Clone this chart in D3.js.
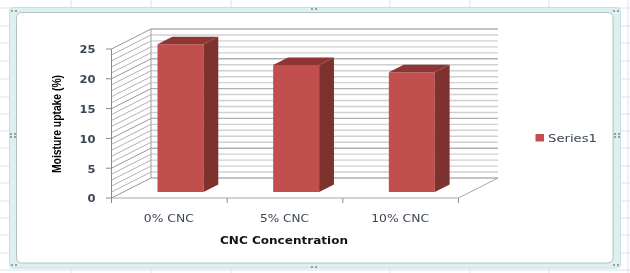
<!DOCTYPE html>
<html><head><meta charset="utf-8">
<script src="https://cdn.jsdelivr.net/npm/d3@7"></script>
<style>html,body{margin:0;padding:0;background:#fff;overflow:hidden}svg{display:block}text{font-family:"DejaVu Sans",sans-serif}</style>
</head><body><svg id="c" width="630" height="273"></svg>
<script>
const categories=["0% CNC","5% CNC","10% CNC"];
const seriesName="Series1";
const values=[24.8,21.3,20.1];
const yTicks=[0,5,10,15,20,25];
const yMinor=d3.range(0,26);
const xTitle="CNC Concentration";
const yTitle="Moisture uptake (%)";
const sheetCols=[71,151,231,390,470,549,628];
const sheetRows=[8,26,43,61,79,97,114,131,148,166,183,201,218,235,253,270];

const svg=d3.select("#c");
const root=svg.append("g");
const defs=svg.append("defs");
defs.append("filter").attr("id","soft").attr("x","-2%").attr("y","-2%").attr("width","104%").attr("height","104%")
  .append("feGaussianBlur").attr("stdDeviation",0.45);
root.attr("filter","url(#soft)");

root.append("rect").attr("width",630).attr("height",273).attr("fill","#fff");
root.selectAll(".sc").data(sheetCols).join("line").attr("x1",d=>d).attr("x2",d=>d).attr("y1",0).attr("y2",273).attr("stroke","#d9e3ef");
root.selectAll(".sr").data(sheetRows).join("line").attr("y1",d=>d).attr("y2",d=>d).attr("x1",0).attr("x2",630).attr("stroke","#d9e3ef");

// chart frame
root.append("rect").attr("x",9.5).attr("y",7.5).attr("width",611).attr("height",260.5).attr("rx",4)
  .attr("fill","#deefef").attr("stroke","#c8dde0");
root.append("rect").attr("x",16.5).attr("y",12.5).attr("width",596.5).attr("height",250.5).attr("rx",5)
  .attr("fill","#fff").attr("stroke","#b4bfc0").attr("stroke-width",1);

const x=d3.scaleBand().domain(categories).range([111.5,458.5]);
const y=d3.scaleLinear().domain([0,25]).range([198,49]);
const DX=39.5,DY=20;
const P=(px,v,d)=>[px+d*DX,y(v)-d*DY];
const line=d3.line();

// walls
const g=root.append("g").attr("fill","none");
g.selectAll(".wl").data(yMinor).join("path")
  .attr("d",v=>line([P(x.range()[0],v,0),P(x.range()[0],v,1)]))
  .attr("stroke",v=>v%5===0?"#8a8a8a":"#a8a8a8").attr("stroke-width",.9);
g.selectAll(".bl").data(yMinor).join("path")
  .attr("d",v=>line([P(x.range()[0],v,1),P(x.range()[1],v,1)]))
  .attr("stroke",v=>v%5===0?"#b0b0b0":"#d0d0d0").attr("stroke-width",1.4);
g.append("path").attr("d",line([P(x.range()[0],25,1),P(x.range()[0],0,1)])).attr("stroke","#a0a0a0");
g.append("path").attr("d",line([P(x.range()[0],0,0),P(x.range()[1],0,0),P(x.range()[1],0,1)])).attr("stroke","#a8a8a8");
g.append("path").attr("d",line([P(x.range()[0],0,0),P(x.range()[0],25,0)])).attr("stroke","#8a8a8a");

// ticks
g.selectAll(".yt").data(yTicks).join("line").attr("x1",106).attr("x2",111.5).attr("y1",d=>y(d)).attr("y2",d=>y(d)).attr("stroke","#8a8a8a");
g.selectAll(".xt").data([...categories.map(c=>x(c)),x.range()[1]]).join("line").attr("x1",d=>d).attr("x2",d=>d).attr("y1",198).attr("y2",203).attr("stroke","#8a8a8a");

// bars
const barW=46,front=.3,back=.675;
const bars=root.append("g").selectAll("g").data(categories.map((c,i)=>({c,v:values[i]}))).join("g");
const xl=d=>x(d.c)+(x.bandwidth()-barW)/2-.7;
bars.append("path").attr("fill","#c0504d").attr("d",d=>line([P(xl(d),0,front),P(xl(d),d.v,front),P(xl(d)+barW,d.v,front),P(xl(d)+barW,0,front)])+"Z");
bars.append("path").attr("fill","#7d302e").attr("d",d=>line([P(xl(d)+barW,0,front),P(xl(d)+barW,d.v,front),P(xl(d)+barW,d.v,back),P(xl(d)+barW,0,back)])+"Z");
bars.append("path").attr("fill","#8e3634").attr("d",d=>line([P(xl(d),d.v,front),P(xl(d),d.v,back),P(xl(d)+barW,d.v,back),P(xl(d)+barW,d.v,front)])+"Z");

// text
const ink="#3b4656";
root.selectAll(".yl").data(yTicks).join("text").attr("x",95.5).attr("y",d=>y(d)+.5).attr("dy",".36em").attr("text-anchor","end")
  .attr("fill",ink).attr("font-size",11).style("font-weight",700)
  .attr("textLength",d=>String(d).length*8).attr("lengthAdjust","spacingAndGlyphs").text(d=>d);
root.selectAll(".xl").data(categories).join("text").attr("x",d=>x(d)+x.bandwidth()/2-.5).attr("y",222).attr("text-anchor","middle")
  .attr("fill",ink).attr("font-size",10.5).attr("textLength",(d,i)=>[50,49,58][i]).attr("lengthAdjust","spacingAndGlyphs").text(d=>d);
root.append("text").attr("x",284).attr("y",244).attr("text-anchor","middle").attr("fill","#10151c").attr("font-size",10.8).attr("font-weight","bold")
  .attr("textLength",128).attr("lengthAdjust","spacingAndGlyphs").text(xTitle);
root.append("text").attr("transform","translate(61,124) rotate(-90)").attr("text-anchor","middle").attr("fill","#000").attr("font-size",12).attr("font-weight","bold").style("font-family","'Liberation Sans Narrow','Liberation Sans',sans-serif").attr("textLength",98).attr("lengthAdjust","spacingAndGlyphs").text(yTitle);

// legend
root.append("rect").attr("x",535.5).attr("y",134).attr("width",8.5).attr("height",7.5).attr("fill","#c0504d");
root.append("text").attr("x",548).attr("y",142).attr("fill",ink).attr("font-size",11).attr("textLength",49).attr("lengthAdjust","spacingAndGlyphs").text(seriesName);

// resize handles
const handles=[[14,11],[314,9],[616,11],[13,134],[13,137],[617,134],[617,137],[14,265],[314,267],[616,265]];
root.selectAll(".h").data(handles).join("g").each(function(d){
  d3.select(this).selectAll("rect").data([-2,2]).join("rect").attr("x",k=>d[0]+k-.8).attr("y",d[1]-.8).attr("width",1.6).attr("height",1.6).attr("fill","#777");
});
</script></body></html>
